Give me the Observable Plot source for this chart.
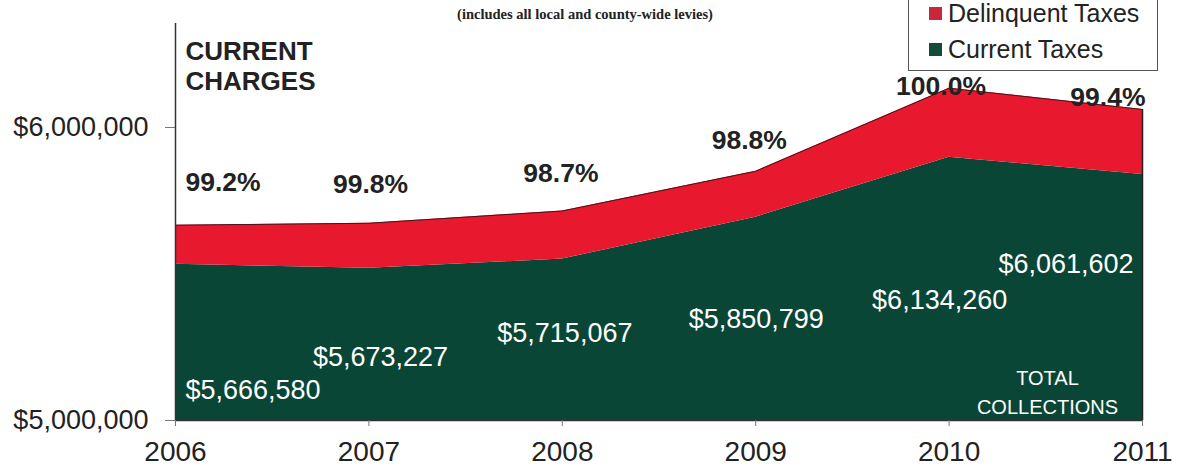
<!DOCTYPE html>
<html>
<head>
<meta charset="utf-8">
<script src="https://cdn.jsdelivr.net/npm/d3@7"></script>
<script src="https://cdn.jsdelivr.net/npm/@observablehq/plot@0.6"></script>
<style>
  html, body { margin: 0; padding: 0; background: #fff; overflow: hidden; }
  #wrap { position: relative; width: 1177px; height: 468px; }
  #subtitle { position: absolute; left: 0; width: 1170px; top: 6px; text-align: center;
    font: bold 14.5px "Liberation Serif", "Times New Roman", serif; color: #222; }
  #legend { position: absolute; left: 908px; top: -16px; width: 250px; height: 87px;
    border: 1px solid #555; background: #fff; box-sizing: border-box; }
  .item { position: absolute; left: 20px; font: 25px/25px "Liberation Sans", Arial, sans-serif; color: #222; white-space: nowrap; }
  .sw { display: inline-block; width: 13px; height: 13px; margin-right: 6px; vertical-align: 2px; }
</style>
</head>
<body>
<div id="wrap">
  <div id="chart"></div>
  <div id="subtitle">(includes all local and county-wide levies)</div>
  <div id="legend"></div>
</div>
<script>
// ---- data ----
const years = [2006, 2007, 2008, 2009, 2010, 2011];
const currentTaxes = [5533580, 5519227, 5551067, 5693799, 5898260, 5839602];
const delinquentTaxes = [133000, 154000, 164000, 157000, 236000, 222000];
const totalCollections = [5666580, 5673227, 5715067, 5850799, 6134260, 6061602];
const collectionRates = ["99.2%", "99.8%", "98.7%", "98.8%", "100.0%", "99.4%"];
const seriesNames = ["Current Taxes", "Delinquent Taxes"];
const legendOrder = ["Delinquent Taxes", "Current Taxes"];
const yTicks = [5000000, 6000000];
const yMax = 6355000;

// ---- layout of hand-placed annotations (pixel offsets) ----
const rateOffsets = [
  {dx: 10, dy: -43, anchor: "start"},
  {dx: -36, dy: -39, anchor: "start"},
  {dx: -39, dy: -37, anchor: "start"},
  {dx: -44, dy: -31, anchor: "start"},
  {dx: -53, dy: -2, anchor: "start"},
  {dx: 3, dy: -12, anchor: "end"}
];
const dollarOffsets = [
  {dx: 10, dy: -30}, {dx: -56, dy: -63}, {dx: -65, dy: -87},
  {dx: -67, dy: -101}, {dx: -77, dy: -120}, {dx: -144, dy: -156}
];

const colors = ["#0a4636", "#e8192f"];
const legendColors = {"Delinquent Taxes": "#c8283a", "Current Taxes": "#164a38"};
const fmt = d3.format("$,");

const rows = years.flatMap((year, i) => [
  {year, series: seriesNames[0], value: currentTaxes[i]},
  {year, series: seriesNames[1], value: delinquentTaxes[i]}
]);
const totals = years.map((year, i) => ({year, total: totalCollections[i], rate: collectionRates[i], label: fmt(totalCollections[i])}));

const font = "Liberation Sans, Arial, sans-serif";

const marks = [
  Plot.areaY(rows, {x: "year", y: "value", fill: "series", order: seriesNames, clip: true}),
  Plot.lineY(totals, {x: "year", y: "total", stroke: "#4a1418", strokeWidth: 1}),
  Plot.ruleX([2011], {y1: 5000000, y2: totalCollections[5], stroke: "#222", strokeWidth: 1.5}),
  Plot.ruleX([2006], {stroke: "#333", strokeWidth: 1.5}),
  Plot.ruleY([5000000], {stroke: "#333", strokeWidth: 1.5}),
  Plot.axisY({ticks: yTicks, tickFormat: fmt, tickSize: 10, tickPadding: 17, fontSize: 27, label: null, stroke: "#777"}),
  Plot.axisX({ticks: years, tickFormat: d => String(d), tickSize: 6, tickPadding: 15, fontSize: 28, label: null, stroke: "#777"}),
  Plot.text(["CURRENT\nCHARGES"], {frameAnchor: "top-left", dx: 10, dy: 15, lineAnchor: "top", textAnchor: "start",
    fontSize: 26, fontWeight: "bold", fill: "#222", lineHeight: 1.15}),
  Plot.text(["TOTAL\nCOLLECTIONS"], {frameAnchor: "bottom-right", dx: -95, dy: -30, lineAnchor: "middle", textAnchor: "middle",
    fontSize: 20, fill: "#fff", lineHeight: 1.45})
];

totals.forEach((t, i) => {
  marks.push(Plot.text([t], {x: "year", y: "total", text: "rate", dx: rateOffsets[i].dx, dy: rateOffsets[i].dy,
    textAnchor: rateOffsets[i].anchor, fontSize: 26.5, fontWeight: "bold", fill: "#222"}));
  marks.push(Plot.text([t], {x: "year", frameAnchor: "bottom", text: "label", dx: dollarOffsets[i].dx, dy: dollarOffsets[i].dy,
    textAnchor: "start", lineAnchor: "middle", fontSize: 27, fill: "#fff"}));
});

const chart = Plot.plot({
  width: 1177,
  height: 468,
  marginLeft: 175,
  marginRight: 35,
  marginTop: 23,
  marginBottom: 48,
  style: {fontFamily: font, color: "#222", background: "transparent", overflow: "visible"},
  x: {type: "linear", domain: [2006, 2011]},
  y: {domain: [5000000, yMax]},
  color: {domain: seriesNames, range: colors},
  marks
});
document.getElementById("chart").appendChild(chart);

const legend = document.getElementById("legend");
legendOrder.forEach((name, i) => {
  const div = document.createElement("div");
  div.className = "item";
  div.style.top = (i === 0 ? 16 : 52) + "px";
  const sw = document.createElement("span");
  sw.className = "sw";
  sw.style.background = legendColors[name];
  div.appendChild(sw);
  div.appendChild(document.createTextNode(name));
  legend.appendChild(div);
});
</script>
</body>
</html>
